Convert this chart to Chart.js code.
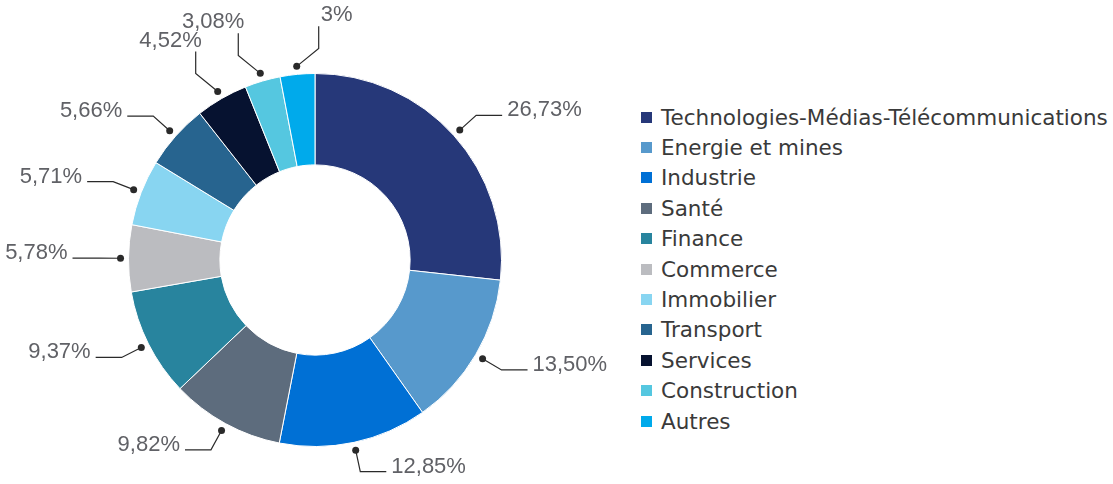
<!DOCTYPE html>
<html lang="fr">
<head>
<meta charset="utf-8">
<script src="https://cdn.jsdelivr.net/npm/chart.js@4.4.1/dist/chart.umd.min.js"></script>
<style>
  html, body { margin: 0; padding: 0; background: #fff; }
  #wrap { position: relative; width: 1113px; height: 484px; overflow: hidden; }
  #chart-box { position: absolute; left: 0; top: 0; width: 630px; height: 484px; }
  #legend { position: absolute; left: 641px; top: 102px; font-family: "DejaVu Sans", sans-serif; font-size: 21.5px; color: #3a3a3a; }
  .row { display: flex; align-items: center; height: 30.4px; white-space: nowrap; }
  .sw { width: 11px; height: 11px; margin-right: 9px; flex: none; }
</style>
</head>
<body>
<div id="wrap">
  <div id="chart-box"><canvas id="donut"></canvas></div>
  <div id="legend"></div>
</div>
<script>
const sectors = [
  'Technologies-Médias-Télécommunications', 'Energie et mines', 'Industrie', 'Santé',
  'Finance', 'Commerce', 'Immobilier', 'Transport', 'Services', 'Construction', 'Autres'
];
const shares = [26.73, 13.50, 12.85, 9.82, 9.37, 5.78, 5.71, 5.66, 4.52, 3.08, 3];
const colors = [
  '#263879', '#5799cc', '#0070d5', '#5d6c7d', '#28849e', '#bbbcc0',
  '#88d5f1', '#27648f', '#061230', '#55c7e0', '#00aaeb'
];

function fmt(v) {
  return (Number.isInteger(v) ? String(v) : v.toFixed(2).replace('.', ',')) + '%';
}

// legend
const legendEl = document.getElementById('legend');
sectors.forEach((name, i) => {
  const row = document.createElement('div');
  row.className = 'row';
  row.innerHTML = `<div class="sw" style="background:${colors[i]};"></div><span>${name}</span>`;
  legendEl.appendChild(row);
});

// leader lines + percent labels
const leaders = {
  id: 'leaders',
  afterDatasetsDraw(chart) {
    const { ctx } = chart;
    const meta = chart.getDatasetMeta(0);
    ctx.save();
    ctx.strokeStyle = '#2a2a2a';
    ctx.fillStyle = '#2a2a2a';
    ctx.lineWidth = 1.2;
    ctx.font = '22px "Liberation Sans", sans-serif';
    ctx.textBaseline = 'middle';
    meta.data.forEach((arc, i) => {
      const mid = (arc.startAngle + arc.endAngle) / 2;
      const r = arc.outerRadius + 8;
      const cos = Math.cos(mid), sin = Math.sin(mid);
      const dx = arc.x + r * cos, dy = arc.y + r * sin;
      // clockwise degrees from the top
      const deg = ((mid * 180 / Math.PI + 90) % 360 + 360) % 360;
      const pts = [[dx, dy]];
      let tx, ty, align;
      if (deg > 320) {
        const dir = deg > 350 ? 1 : -1;
        const ex = dx + dir * 22, ey = dy - 18;
        pts.push([ex, ey], [ex, ey - 22]);
        tx = dir > 0 ? ex + 2 : ex + 6;
        ty = ey - 33;
        align = dir > 0 ? 'left' : 'right';
      } else {
        const side = cos >= 0 ? 1 : -1;
        const ex = dx + 22 * cos, ey = dy + 22 * sin;
        const hx = ex + 26 * side;
        pts.push([ex, ey], [hx, ey]);
        tx = hx + 5 * side;
        ty = ey - 5;
        align = side > 0 ? 'left' : 'right';
      }
      ctx.beginPath();
      ctx.moveTo(pts[0][0], pts[0][1]);
      pts.slice(1).forEach(p => ctx.lineTo(p[0], p[1]));
      ctx.stroke();
      ctx.beginPath();
      ctx.arc(dx, dy, 3.5, 0, Math.PI * 2);
      ctx.fill();
      ctx.save();
      ctx.fillStyle = '#606166';
      ctx.textAlign = align;
      ctx.fillText(fmt(shares[i]), tx, ty);
      ctx.restore();
    });
    ctx.restore();
  }
};

new Chart(document.getElementById('donut'), {
  type: 'doughnut',
  data: {
    labels: sectors,
    datasets: [{
      data: shares,
      backgroundColor: colors,
      borderColor: '#ffffff',
      borderWidth: 1
    }]
  },
  options: {
    responsive: true,
    maintainAspectRatio: false,
    animation: false,
    cutout: '51%',
    layout: { padding: { top: 73, bottom: 37, left: 128, right: 128 } },
    plugins: {
      legend: { display: false },
      tooltip: { enabled: false }
    }
  },
  plugins: [leaders]
});
</script>
</body>
</html>
